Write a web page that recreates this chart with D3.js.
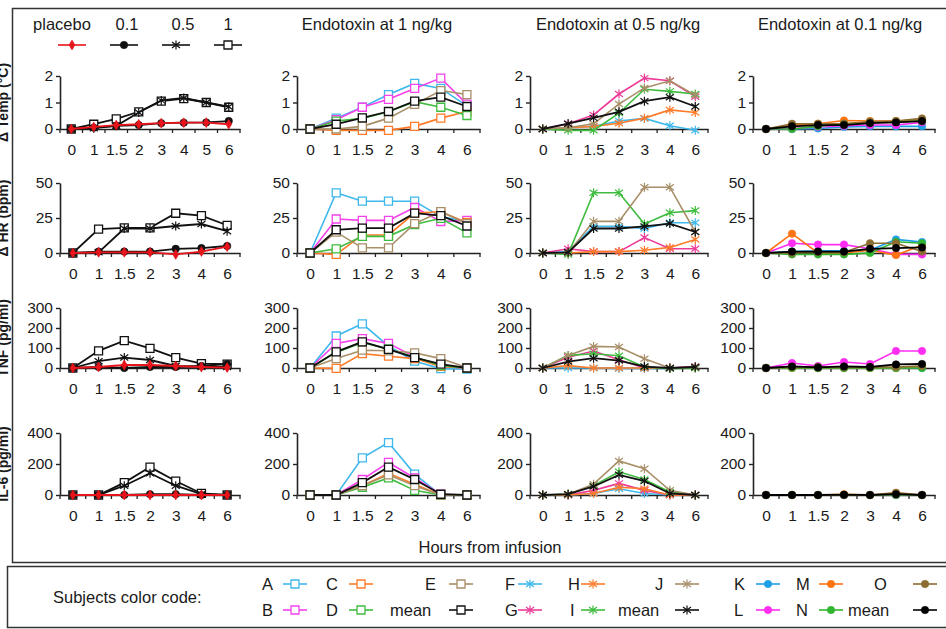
<!DOCTYPE html>
<html>
<head>
<meta charset="utf-8">
<script src="https://cdn.jsdelivr.net/npm/d3@7"></script>
<style>
  body { margin: 0; background: #fff; }
  svg { display: block; font-family: "Liberation Sans", Arial, sans-serif; }
  .tick text { font-family: "Liberation Sans Narrow", "Liberation Sans", Arial, sans-serif; }
</style>
</head>
<body>
<svg id="chart" width="946" height="629"></svg>
<script>
// Endotoxin dose-response panels: 4 measures x (placebo/doses + 3 endotoxin doses)

// time points, hours from infusion
const hoursLong = ['0', '1', '1.5', '2', '3', '4', '5', '6'];
const hours = ['0', '1', '1.5', '2', '3', '4', '6'];

const rowLabels = ['Δ Temp (°C)', 'Δ HR (bpm)', 'TNF (pg/ml)', 'IL-6 (pg/ml)'];
const rowMax = [2, 50, 300, 400];
const rowTicks = [[0, 1, 2], [0, 25, 50], [0, 100, 200, 300], [0, 200, 400]];
const colTitles = ['', 'Endotoxin at 1 ng/kg', 'Endotoxin at 0.5 ng/kg', 'Endotoxin at 0.1 ng/kg'];

const doseNames = ['placebo', '0.1', '0.5', '1'];
const subjects1 = ['A', 'B', 'C', 'D', 'E', 'mean'];
const subjects05 = ['F', 'G', 'H', 'I', 'J', 'mean'];
const subjects01 = ['K', 'L', 'M', 'N', 'O', 'mean'];

// --- temperature change ---
const tempDoses = [
  [0, 0.08, 0.15, 0.18, 0.22, 0.24, 0.24, 0.18],
  [0, 0.05, 0.12, 0.15, 0.22, 0.24, 0.25, 0.3],
  [0, 0.03, 0.12, 0.62, 1.08, 1.17, 1.0, 0.84],
  [0, 0.18, 0.38, 0.65, 1.05, 1.15, 1.0, 0.82]
];
const temp1 = [
  [0, 0.41, 0.82, 1.3, 1.72, 1.53, 0.87],
  [0, 0.35, 0.82, 1.12, 1.53, 1.92, 0.94],
  [0, -0.05, -0.05, -0.05, 0.1, 0.41, 0.66],
  [0, 0.3, 0.4, 0.65, 1.03, 0.82, 0.51],
  [0, 0.0, 0.1, 0.41, 0.93, 1.45, 1.3],
  [0, 0.18, 0.42, 0.66, 1.05, 1.2, 0.85]
];
const temp05 = [
  [0, 0.05, 0.1, 0.3, 0.4, 0.12, -0.05],
  [0, 0.2, 0.53, 1.32, 1.92, 1.82, 1.22],
  [0, 0.05, 0.1, 0.22, 0.41, 0.72, 0.62],
  [0, -0.05, -0.05, 0.6, 1.5, 1.42, 1.32],
  [0, 0.05, 0.2, 0.94, 1.55, 1.82, 1.28],
  [0, 0.2, 0.42, 0.65, 1.05, 1.2, 0.85]
];
const temp01 = [
  [0, 0.0, 0.02, 0.08, 0.1, 0.1, 0.1],
  [0, 0.02, 0.08, 0.12, 0.15, 0.15, 0.25],
  [0, 0.15, 0.2, 0.32, 0.3, 0.3, 0.35],
  [0, 0.0, 0.1, 0.2, 0.25, 0.28, 0.3],
  [0, 0.2, 0.2, 0.2, 0.28, 0.3, 0.4],
  [0, 0.1, 0.15, 0.15, 0.22, 0.25, 0.3]
];

// --- heart rate change ---
const hrDoses = [
  [0, 0.5, 0.5, 0.5, -1, 1, 4.5],
  [0, 1, 1, 1, 3, 3.5, 5],
  [0, 0.5, 17.5, 17.5, 19.3, 20.7, 15.6],
  [0, 17, 18, 18, 28.4, 26.7, 19.8]
];
const hr1 = [
  [0, 43, 37, 37, 37, 26, 22.5],
  [0, 24.3, 23.3, 23.3, 32.5, 22.5, 23.3],
  [0, -1, 12.9, 12.9, 28.5, 29.5, 21.8],
  [0, 3, 11.9, 11.9, 20.3, 24.8, 14.4],
  [0, 14.9, 3.7, 3.7, 21, 29.5, 21],
  [0, 16.6, 17.8, 17.8, 28.5, 26.7, 19.3]
];
const hr05 = [
  [0, 1, 19, 19, 17.5, 21.6, 21.6],
  [0, 3, 1, 1, 11, 3, 3],
  [0, 0, 1, 1, 2, 4, 9.6],
  [0, -1, 43, 43, 20.7, 28.8, 30.3],
  [0, 0, 22.6, 22.6, 47, 47, 15],
  [0, 0.5, 17.5, 17.5, 19, 21, 15]
];
const hr01 = [
  [0, 1, 1.5, 1.5, 2, 9.7, 7.8],
  [0, 7, 6, 6, 3, -1, -1],
  [0, 13.8, 0, 0, 2, -1.5, 5.5],
  [0, -1, -1, -1, 0, 8, 7],
  [0, 0, 0.5, 0.5, 7, 7, 1],
  [0, 1, 1, 1, 3, 3.5, 4]
];

// --- TNF ---
const tnfDoses = [
  [0, 5, 15, 15, 10, 5, 2],
  [0, 5, 0, 5, 5, 10, 20],
  [0, 34, 52, 40, 10, 5, 5],
  [0, 86, 137, 98, 52, 22, 19]
];
const tnf1 = [
  [0, 160, 221, 110, 34, -3, -5],
  [0, 123, 147, 123, 56, 8, 0],
  [0, -2, 72, 59, 47, 8, 0],
  [0, 78, 128, 95, 55, 12, 0],
  [0, 47, 89, 86, 76, 47, 2],
  [0, 81, 131, 93, 52, 19, 0]
];
const tnf05 = [
  [0, 0, 0, -2, -2, -2, 0],
  [0, 54, 85, 41, 0, 0, 8],
  [0, 12, 0, 0, 0, 0, 0],
  [0, 63, 71, 61, 5, -3, 0],
  [0, 63, 108, 105, 46, 0, 5],
  [0, 32, 49, 37, 7, 0, 5]
];
const tnf01 = [
  [0, 5, 0, 0, 0, 0, 0],
  [0, 25, 10, 30, 20, 85, 85],
  [0, 0, 0, 0, 0, 0, 5],
  [0, 0, 0, 0, 0, 0, 0],
  [0, 5, 5, 5, 5, 5, 10],
  [0, 8, 3, 8, 5, 18, 20]
];

// --- IL-6 ---
const il6Doses = [
  [0, 0, 0, 0, 0, 0, 0],
  [0, 0, 0, 5, 5, 0, 0],
  [0, 0, 60, 140, 60, 5, 0],
  [0, 0, 80, 180, 90, 10, 0]
];
const il61 = [
  [0, 0, 240, 338, 135, 0, 0],
  [0, 0, 100, 210, 110, 5, 0],
  [0, 0, 60, 140, 70, 0, 0],
  [0, 0, 50, 110, 30, 0, 0],
  [0, 0, 60, 130, 60, 0, 0],
  [0, 0, 80, 180, 100, 5, 0]
];
const il605 = [
  [0, 0, 10, 40, 10, 0, 0],
  [0, 0, 30, 75, 30, 0, 0],
  [0, 0, 10, 50, 40, 0, 0],
  [0, 5, 60, 150, 100, 20, 0],
  [0, 5, 70, 220, 170, 30, 0],
  [0, 5, 55, 130, 90, 10, 0]
];
const il601 = [
  [0, 0, 0, 0, 0, 0, 0],
  [0, 0, 0, 0, 0, 0, 0],
  [0, 0, 0, 5, 0, 10, 0],
  [0, 0, 0, 0, 0, 0, 0],
  [0, 0, 0, 0, 0, 15, 0],
  [0, 0, 0, 2, 0, 5, 0]
];

// series styles per column
const doseStyles = [
  { color: '#e8141c', marker: 'diamond' },
  { color: '#111', marker: 'circle' },
  { color: '#111', marker: 'star' },
  { color: '#111', marker: 'square' }
];
const colors1 = ['#3fb8ec', '#f542ea', '#ff7b29', '#3fbc3f', '#a88f68', '#111'];
const colors05 = ['#3fb8ec', '#ec3c98', '#ff7b29', '#3fbc3f', '#a88f68', '#111'];
const colors01 = ['#1e9fe6', '#ff2cf2', '#ff7312', '#2fb52f', '#8c6d32', '#000'];
const colMarkers = ['', 'square', 'star', 'circle'];
const colColors = [null, colors1, colors05, colors01];

const grid = [
  [tempDoses, temp1, temp05, temp01],
  [hrDoses, hr1, hr05, hr01],
  [tnfDoses, tnf1, tnf05, tnf01],
  [il6Doses, il61, il605, il601]
];

// layout: [left, right] of each column, [top, zero line] of each row
const colX = [[60, 240], [297, 480], [530, 708], [753, 935]];
const rowY = [[76, 129], [183, 253], [308, 368], [433, 495]];
const titleX = [0, 377, 618, 840];

const svg = d3.select('#chart');

// frames
svg.append('rect').attr('x', 12.5).attr('y', 8.5).attr('width', 1000).attr('height', 554)
  .attr('fill', 'none').attr('stroke', '#333').attr('stroke-width', 1.5);
svg.append('rect').attr('x', 7.5).attr('y', 566.5).attr('width', 1000).attr('height', 61)
  .attr('fill', 'none').attr('stroke', '#333').attr('stroke-width', 1.5);

function markerPath(type) {
  if (type === 'star') return 'M0,-4.5V4.5M-4,-3L4,3M-4,3L4,-3';
  if (type === 'diamond') return 'M0,-5L3,0L0,5L-3,0Z';
  if (type === 'square') return 'M-4,-4H4V4H-4Z';
  return d3.symbol(d3.symbolCircle, 44)();
}

function drawMarker(g, type, x, y, color) {
  const p = g.append('path')
    .attr('transform', `translate(${x},${y})`)
    .attr('d', markerPath(type));
  if (type === 'square') p.attr('fill', '#fff').attr('stroke', color).attr('stroke-width', 1.3);
  else if (type === 'star') p.attr('fill', 'none').attr('stroke', color).attr('stroke-width', 1.2);
  else p.attr('fill', color).attr('stroke', color).attr('stroke-width', 0.5);
}

grid.forEach((row, r) => {
  row.forEach((series, c) => {
    const domain = (r === 0 && c === 0) ? hoursLong : hours;
    const x = d3.scalePoint().domain(domain).range(colX[c]).padding(0.5);
    const y = d3.scaleLinear().domain([0, rowMax[r]]).range([rowY[r][1], rowY[r][0]]);
    const g = svg.append('g');

    // y axis
    const ya = g.append('g').attr('transform', `translate(${colX[c][0]},0)`)
      .call(d3.axisLeft(y).tickValues(rowTicks[r]).tickFormat(d3.format('d'))
        .tickSizeInner(4).tickSizeOuter(0).tickPadding(3));
    ya.select('.domain').attr('stroke', '#222').attr('stroke-width', 1.6);
    ya.selectAll('.tick line').attr('stroke', '#222').attr('stroke-width', 1.4);
    ya.selectAll('.tick text').attr('font-size', 15.5).attr('fill', '#1a1a1a');

    // x axis: labels at points, ticks at category boundaries
    const xa = g.append('g').attr('transform', `translate(0,${y(0)})`)
      .call(d3.axisBottom(x).tickSizeInner(0).tickSizeOuter(0).tickPadding(15));
    xa.select('.domain').attr('stroke', '#222').attr('stroke-width', 1.6);
    xa.selectAll('.tick text').attr('font-size', 15.5).attr('fill', '#1a1a1a');
    const step = x.step();
    xa.selectAll('line.bound')
      .data(d3.range(domain.length + 1))
      .join('line').attr('class', 'bound')
      .attr('x1', i => colX[c][0] + i * step).attr('x2', i => colX[c][0] + i * step)
      .attr('y1', 0).attr('y2', 4)
      .attr('stroke', '#222').attr('stroke-width', 1.3);

    const line = d3.line().x((d, i) => x(domain[i])).y(d => y(d));
    // in the dose panel draw placebo last so the red stays on top
    const order = c === 0 ? d3.range(series.length).reverse() : d3.range(series.length);
    order.forEach(s => {
      const vals = series[s];
      const color = c === 0 ? doseStyles[s].color : colColors[c][s];
      const marker = c === 0 ? doseStyles[s].marker : colMarkers[c];
      const isMean = c > 0 && s === series.length - 1;
      const sg = g.append('g');
      sg.append('path').datum(vals)
        .attr('d', line)
        .attr('fill', 'none')
        .attr('stroke', color)
        .attr('stroke-width', isMean || c === 0 ? 1.8 : 1.6);
      vals.forEach((v, i) => drawMarker(sg, marker, x(domain[i]), y(v), color));
    });
  });
});

// column titles
colTitles.forEach((t, c) => {
  if (!t) return;
  svg.append('text').attr('x', titleX[c]).attr('y', 30)
    .attr('text-anchor', 'middle').attr('font-size', 16.5).attr('fill', '#1a1a1a').text(t);
});

// dose legend (top left)
const doseLegendX = [72, 124, 176, 228];
const doseLabelX = [62, 127, 183, 228];
doseNames.forEach((n, i) => {
  svg.append('text').attr('x', doseLabelX[i]).attr('y', 30).attr('text-anchor', 'middle')
    .attr('font-size', 16.5).attr('fill', '#1a1a1a').text(n);
  svg.append('line').attr('x1', doseLegendX[i] - 14).attr('x2', doseLegendX[i] + 14)
    .attr('y1', 45).attr('y2', 45).attr('stroke', doseStyles[i].color).attr('stroke-width', 1.6);
  drawMarker(svg, doseStyles[i].marker, doseLegendX[i], 45, doseStyles[i].color);
});

// row labels (mostly cut by the left edge, as in the source figure)
rowLabels.forEach((t, r) => {
  const cy = (rowY[r][0] + rowY[r][1]) / 2;
  svg.append('text').attr('transform', `translate(8,${cy}) rotate(-90)`)
    .attr('text-anchor', 'middle').attr('font-size', 14).attr('font-weight', 'bold')
    .attr('fill', '#1a1a1a').text(t);
});

svg.append('text').attr('x', 490).attr('y', 553).attr('text-anchor', 'middle')
  .attr('font-size', 16.5).attr('fill', '#1a1a1a').text('Hours from infusion');

// subjects color legend
svg.append('text').attr('x', 53).attr('y', 603).attr('font-size', 16.5)
  .attr('fill', '#1a1a1a').text('Subjects color code:');

const legendGroups = [
  { names: subjects1, colors: colors1, marker: 'square', labelX: [262, 262, 326, 326, 425, 390], markX: [295, 295, 361, 361, 461, 461] },
  { names: subjects05, colors: colors05, marker: 'star', labelX: [505, 505, 568, 570, 655, 618], markX: [530, 530, 593, 593, 687, 687] },
  { names: subjects01, colors: colors01, marker: 'circle', labelX: [734, 734, 796, 796, 874, 848], markX: [768, 768, 831, 831, 925, 925] }
];
const legendRowY = [584, 610];
legendGroups.forEach(gp => {
  gp.names.forEach((n, i) => {
    // A C E on the top row, B D mean below
    const rowIdx = i === 5 ? 1 : i % 2;
    const yy = legendRowY[rowIdx];
    svg.append('text').attr('x', gp.labelX[i]).attr('y', yy + 6).attr('font-size', 16.5)
      .attr('fill', '#1a1a1a').text(n);
    svg.append('line').attr('x1', gp.markX[i] - 12).attr('x2', gp.markX[i] + 12)
      .attr('y1', yy).attr('y2', yy).attr('stroke', gp.colors[i]).attr('stroke-width', 1.6);
    drawMarker(svg, gp.marker, gp.markX[i], yy, gp.colors[i]);
  });
});
</script>
</body>
</html>
